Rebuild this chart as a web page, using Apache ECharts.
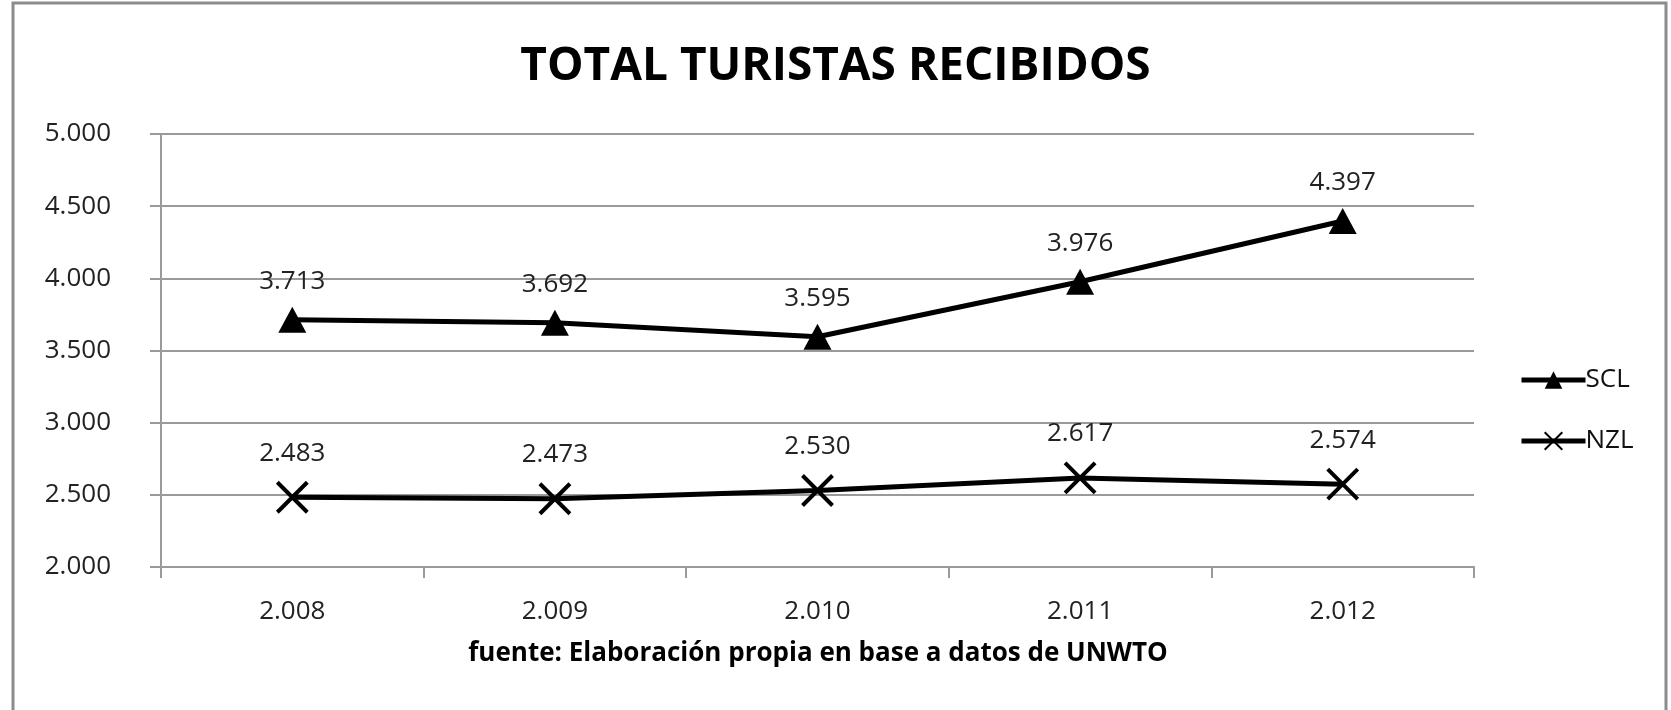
<!DOCTYPE html>
<html>
<head>
<meta charset="utf-8">
<script src="https://cdn.jsdelivr.net/npm/echarts@6/dist/echarts.min.js"></script>
<style>
  html, body { margin: 0; padding: 0; background: #fff; }
  #main { width: 1671px; height: 710px; }
</style>
</head>
<body>
<div id="main"></div>
<script>
// datos (miles de turistas)
var years = ['2.008', '2.009', '2.010', '2.011', '2.012'];
var scl = [3713, 3692, 3595, 3976, 4397];
var nzl = [2483, 2473, 2530, 2617, 2574];

function miles(v) {
    var s = String(Math.round(v));
    return s.replace(/\B(?=(\d{3})+(?!\d))/g, '.');
}

var cruz = 'path://M0,0L10,10M10,0L0,10';

var myChart = echarts.init(document.getElementById('main'));
option = {
    backgroundColor: '#fff',
    textStyle: { fontFamily: 'Open Sans' },
    title: {
        text: 'TOTAL TURISTAS RECIBIDOS',
        left: 'center',
        top: 39,
        textStyle: { fontFamily: 'Open Sans', fontWeight: 'bold', fontSize: 46, color: '#000' }
    },
    graphic: [
        {
            type: 'rect',
            shape: { x: 13, y: 3, width: 1653, height: 720 },
            style: { fill: 'none', stroke: '#8c8c8c', lineWidth: 3 },
            z: -1
        },
        {
            type: 'text',
            x: 818,
            y: 641,
            style: {
                text: 'fuente: Elaboración propia en base a datos de UNWTO',
                font: 'bold 26px "Open Sans"',
                fill: '#000',
                align: 'center',
                verticalAlign: 'top'
            }
        }
    ],
    legend: {
        orient: 'vertical',
        left: 1514,
        top: 362,
        itemWidth: 64,
        itemHeight: 22,
        itemGap: 35,
        lineStyle: { width: 5 },
        textStyle: { fontSize: 26, color: '#111', padding: [0, 0, 0, -5] },
        data: ['SCL', 'NZL']
    },
    grid: { left: 161, right: 197, top: 134, bottom: 143 },
    xAxis: {
        type: 'category',
        data: years,
        boundaryGap: true,
        axisLine: { lineStyle: { color: '#9a9a9a', width: 2 } },
        axisTick: { show: true, length: 11, lineStyle: { color: '#9a9a9a', width: 2 } },
        axisLabel: { fontSize: 26, color: '#222', margin: 32 }
    },
    yAxis: {
        type: 'value',
        min: 2000,
        max: 5000,
        interval: 500,
        axisLine: { show: true, lineStyle: { color: '#9a9a9a', width: 2 } },
        axisTick: { show: true, length: 11, lineStyle: { color: '#9a9a9a', width: 2 } },
        splitLine: { lineStyle: { color: '#9a9a9a', width: 2 } },
        axisLabel: { fontSize: 26, color: '#222', margin: 50, formatter: miles }
    },
    series: [
        {
            name: 'SCL',
            type: 'line',
            data: scl,
            symbol: 'triangle',
            symbolSize: [28, 26],
            lineStyle: { color: '#000', width: 5 },
            itemStyle: { color: '#000' },
            label: {
                show: true,
                position: 'top',
                distance: 12,
                fontSize: 26,
                color: '#222',
                formatter: function (p) { return miles(p.value); }
            }
        },
        {
            name: 'NZL',
            type: 'line',
            data: nzl,
            symbol: cruz,
            symbolSize: 30,
            lineStyle: { color: '#000', width: 5 },
            itemStyle: { color: '#000', borderColor: '#000', borderWidth: 4 },
            label: {
                show: true,
                position: 'top',
                distance: 14,
                fontSize: 26,
                color: '#222',
                formatter: function (p) { return miles(p.value); }
            }
        }
    ]
};
myChart.setOption(option);
</script>
</body>
</html>
